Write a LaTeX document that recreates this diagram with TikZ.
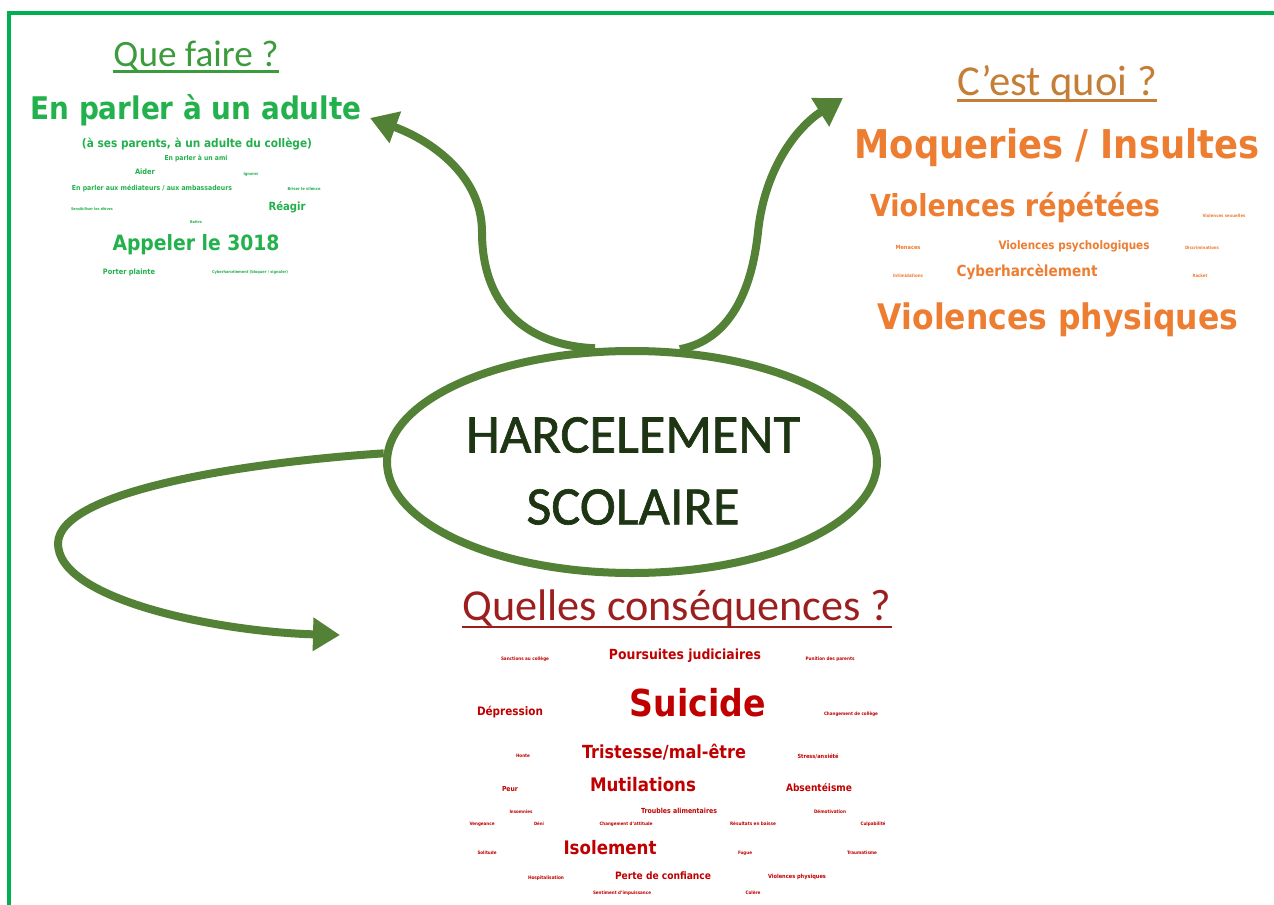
\documentclass[tikz,border=0pt]{standalone}
\usepackage{fontspec}
\usepackage{graphicx}
\setmainfont{Carlito}
\newfontfamily\comicf{DejaVu Sans}
\newfontfamily\titlef{Carlito}[FakeBold=1.2]
\usetikzlibrary{shapes.geometric,arrows.meta}
\definecolor{framegreen}{HTML}{00B050}
\definecolor{arrowgreen}{HTML}{538135}
\definecolor{wgreen}{HTML}{22B14C}
\definecolor{hgreen}{HTML}{3C9B3C}
\definecolor{horange}{HTML}{C47E36}
\definecolor{worange}{HTML}{ED7D31}
\definecolor{hred}{HTML}{9C1F1F}
\definecolor{wred}{HTML}{C00000}
\definecolor{titledark}{HTML}{1E3514}
\newcommand\wfit[2]{\scalebox{1}[1.12]{\resizebox{#1bp}{!}{#2}}}
\newcommand\hfit[2]{\resizebox{#1bp}{!}{#2}}
\tikzset{
  wbase/.style={inner sep=0pt, outer sep=0pt, font=\comicf\bfseries},
  gw/.style={wbase, text=wgreen},
  ow/.style={wbase, text=worange},
  rw/.style={wbase, text=wred},
  head/.style={inner sep=0pt, outer sep=0pt, font=\normalfont},
  bigarrow/.style={draw=arrowgreen, line width=8bp, -{Triangle[length=27bp,width=32bp]}},
}
\begin{document}
\begin{tikzpicture}[x=1bp,y=-1bp]
\useasboundingbox (0,0) rectangle (1274,905);
\fill[white] (0,0) rectangle (1274,905);
% frame
\draw[framegreen, line width=4bp] (9,905) -- (9,13) -- (1274,13);

% central ellipse
\node[ellipse, draw=arrowgreen, line width=8bp, minimum width=490bp, minimum height=222bp, inner sep=0pt] (E) at (632,462) {};
\node[head, text=titledark, font=\titlef] (T1) at (633,435) {\hfit{334}{HARCELEMENT}};
\node[head, text=titledark, font=\titlef] (T2) at (633,507) {\hfit{213}{SCOLAIRE}};

% arrow ends
\coordinate (tipL) at (370,118);
\coordinate (tipR) at (843,98);
\coordinate (tipB) at (340,635);

\draw[bigarrow] (E.108) .. controls (520,345) and (482,300) .. (482,232)
   .. controls (482,175) and (430,140) .. (tipL);
\draw[bigarrow] (E.67) .. controls (730,340) and (752,290) .. (758,232)
   .. controls (765,165) and (800,125) .. (tipR);
\draw[bigarrow] (E.178) .. controls (250,462) and (60,490) .. (58,543)
   .. controls (57,600) and (220,632) .. (tipB);

% headers
\node[head, text=hgreen] (H1) at (196,56) {\hfit{165}{Que faire ?}};
\draw[hgreen, line width=2.5bp] ([yshift=-5bp]H1.base west) -- ([yshift=-5bp]H1.base east);
\node[head, text=horange] (H2) at (1057,84) {\hfit{200}{C’est quoi ?}};
\draw[horange, line width=2.5bp] ([yshift=-5bp]H2.base west) -- ([yshift=-5bp]H2.base east);
\node[head, text=hred] (H3) at (677,609) {\hfit{429}{Quelles conséquences ?}};
\draw[hred, line width=2.5bp] ([yshift=-6bp]H3.base west) -- ([yshift=-6bp]H3.base east);

% green word cloud
\node[gw] (g1) at (196,110) {\wfit{331}{En parler à un adulte}};
\node[gw] (g2) at (197,144) {\wfit{230}{(à ses parents, à un adulte du collège)}};
\node[gw] (g3) at (196,158) {\wfit{63}{En parler à un ami}};
\node[gw] (g4) at (145,172) {\wfit{20}{Aider}};
\node[gw] (g5) at (251,174) {\wfit{15}{Ignorer}};
\node[gw] (g6) at (152,188) {\wfit{160}{En parler aux médiateurs / aux ambassadeurs}};
\node[gw] (g7) at (304,189) {\wfit{33}{Briser le silence}};
\node[gw] (g8) at (92,209) {\wfit{42}{Sensibiliser les élèves}};
\node[gw] (g9) at (287,207) {\wfit{37}{Réagir}};
\node[gw] (g10) at (196,222) {\wfit{12}{Battre}};
\node[gw] (g11) at (196,245) {\wfit{167}{Appeler le 3018}};
\node[gw] (g12) at (129,272) {\wfit{52}{Porter plainte}};
\node[gw] (g13) at (250,272) {\wfit{76}{Cyberharcèlement (bloquer / signaler)}};

% orange word cloud
\node[ow] (o1) at (1057,148) {\wfit{405}{Moqueries / Insultes}};
\node[ow] (o2) at (1015,208) {\wfit{290}{Violences répétées}};
\node[ow] (o3) at (1224,216) {\wfit{43}{Violences sexuelles}};
\node[ow] (o4) at (908,247) {\wfit{25}{Menaces}};
\node[ow] (o5) at (1074,246) {\wfit{151}{Violences psychologiques}};
\node[ow] (o6) at (1202,248) {\wfit{34}{Discriminations}};
\node[ow] (o7) at (908,276) {\wfit{30}{Intimidations}};
\node[ow] (o8) at (1027,272) {\wfit{141}{Cyberharcèlement}};
\node[ow] (o9) at (1200,276) {\wfit{15}{Racket}};
\node[ow] (o10) at (1058,320) {\wfit{360}{Violences physiques}};

% red word cloud
\node[rw] (r1) at (525,659) {\wfit{48}{Sanctions au collège}};
\node[rw] (r2) at (685,656) {\wfit{152}{Poursuites judiciaires}};
\node[rw] (r3) at (830,659) {\wfit{49}{Punition des parents}};
\node[rw] (r4) at (698,703) {\wfit{136}{Suicide}};
\node[rw] (r5) at (510,712) {\wfit{66}{Dépression}};
\node[rw] (r6) at (851,714) {\wfit{54}{Changement de collège}};
\node[rw] (r7) at (523,756) {\wfit{14}{Honte}};
\node[rw] (r8) at (664,752) {\wfit{164}{Tristesse/mal-être}};
\node[rw] (r9) at (818,756) {\wfit{41}{Stress/anxiété}};
\node[rw] (r10) at (510,789) {\wfit{16}{Peur}};
\node[rw] (r11) at (643,785) {\wfit{106}{Mutilations}};
\node[rw] (r12) at (819,788) {\wfit{66}{Absentéisme}};
\node[rw] (r13) at (521,812) {\wfit{23}{Insomnies}};
\node[rw] (r14) at (679,811) {\wfit{76}{Troubles alimentaires}};
\node[rw] (r15) at (830,812) {\wfit{32}{Démotivation}};
\node[rw] (r16) at (482,824) {\wfit{25}{Vengeance}};
\node[rw] (r17) at (539,824) {\wfit{10}{Déni}};
\node[rw] (r18) at (626,824) {\wfit{53}{Changement d’attitude}};
\node[rw] (r19) at (753,824) {\wfit{46}{Résultats en baisse}};
\node[rw] (r20) at (873,824) {\wfit{25}{Culpabilité}};
\node[rw] (r21) at (487,853) {\wfit{19}{Solitude}};
\node[rw] (r22) at (610,848) {\wfit{93}{Isolement}};
\node[rw] (r23) at (745,853) {\wfit{14}{Fugue}};
\node[rw] (r24) at (862,853) {\wfit{30}{Traumatisme}};
\node[rw] (r25) at (546,878) {\wfit{36}{Hospitalisation}};
\node[rw] (r26) at (663,876) {\wfit{96}{Perte de confiance}};
\node[rw] (r27) at (797,877) {\wfit{58}{Violences physiques}};
\node[rw] (r28) at (622,893) {\wfit{58}{Sentiment d’impuissance}};
\node[rw] (r29) at (753,893) {\wfit{15}{Colère}};
\end{tikzpicture}
\end{document}
